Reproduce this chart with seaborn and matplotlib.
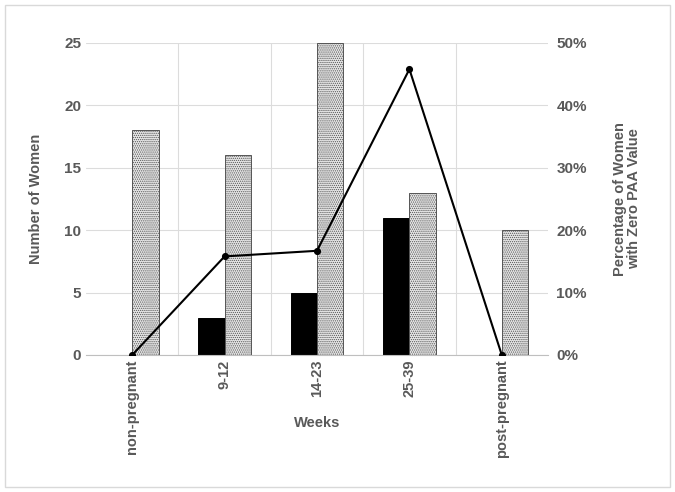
import pandas as pd
import matplotlib.pyplot as plt
import matplotlib.patches as mpatches
import seaborn as sns

# datos
semanas = ["non-pregnant", "9-12", "14-23", "25-39", "post-pregnant"]
cero_paa = [0, 3, 5, 11, 0]
total_mujeres = [18, 16, 25, 13, 10]
porcentaje = [0.0, 15.8, 16.7, 45.8, 0.0]
grupos = ["Zero PAA", "Total"]

df = pd.DataFrame({
    "semana": semanas * 2,
    "n": cero_paa + total_mujeres,
    "grupo": [grupos[0]] * len(semanas) + [grupos[1]] * len(semanas),
})

sns.set_style("white")
plt.rcParams["font.family"] = ["Liberation Sans", "DejaVu Sans"]
plt.rcParams["hatch.color"] = "#5e5e5e"
plt.rcParams["hatch.linewidth"] = 0.6
gris = "#595959"

fig = plt.figure(figsize=(6.75, 4.92), dpi=100)
ax = fig.add_axes([86 / 675, 1 - 355 / 492, (548 - 86) / 675, (355 - 43) / 492])

sns.barplot(data=df, x="semana", y="n", hue="grupo", order=semanas,
            palette=["black", "#e6e6e6"], width=0.57, ax=ax, legend=False,
            edgecolor="black", linewidth=0.7)
for barra in ax.containers[1]:
    barra.set_hatch("........")
    barra.set_edgecolor("#555555")

ax.set_ylim(0, 25)
ax.set_xlim(-0.5, 4.5)
ax.set_yticks(range(0, 26, 5))
ax.set_xticks(range(len(semanas)))
ax.set_xticklabels(semanas, rotation=90)
ax.set_xticks([0.5, 1.5, 2.5, 3.5], minor=True)
ax.grid(axis="y", color="#dcdcdc", linewidth=0.8)
ax.grid(axis="x", which="minor", color="#dcdcdc", linewidth=0.8)
ax.set_axisbelow(True)
for lado in ["top", "left", "right"]:
    ax.spines[lado].set_visible(False)
ax.spines["bottom"].set_color("#bfbfbf")
ax.tick_params(axis="both", which="both", length=0, colors=gris, labelsize=10.5)
ax.tick_params(axis="y", labelsize=11)
for t in ax.get_xticklabels() + ax.get_yticklabels():
    t.set_fontweight("bold")
ax.set_xlabel("Weeks", fontsize=10.5, fontweight="bold", color=gris)
ax.xaxis.set_label_coords(0.5, -0.195)
ax.set_ylabel("Number of Women", fontsize=10.5, fontweight="bold", color=gris, labelpad=15)

ax2 = ax.twinx()
sns.pointplot(x=semanas, y=porcentaje, order=semanas, color="black", ax=ax2,
              markersize=4, linewidth=1.5)
ax2.set_xlim(-0.5, 4.5)
ax2.set_ylim(0, 50)
ax2.set_yticks(range(0, 51, 10))
ax2.set_yticklabels([f"{v}%" for v in range(0, 51, 10)])
for lado in ["top", "left", "right", "bottom"]:
    ax2.spines[lado].set_visible(False)
ax2.tick_params(axis="y", length=0, colors=gris, labelsize=11, pad=6)
for t in ax2.get_yticklabels():
    t.set_fontweight("bold")
ax2.set_ylabel("Percentage of Women\nwith Zero PAA Value", fontsize=10.5,
               fontweight="bold", color=gris, labelpad=19, linespacing=1.0)

# marco exterior
fig.patches.append(mpatches.Rectangle((5 / 675, 5 / 492), 665 / 675, 482 / 492,
                                      transform=fig.transFigure, fill=False,
                                      edgecolor="#d9d9d9", linewidth=1))

fig.savefig("out.png", dpi=100)
plt.close()
